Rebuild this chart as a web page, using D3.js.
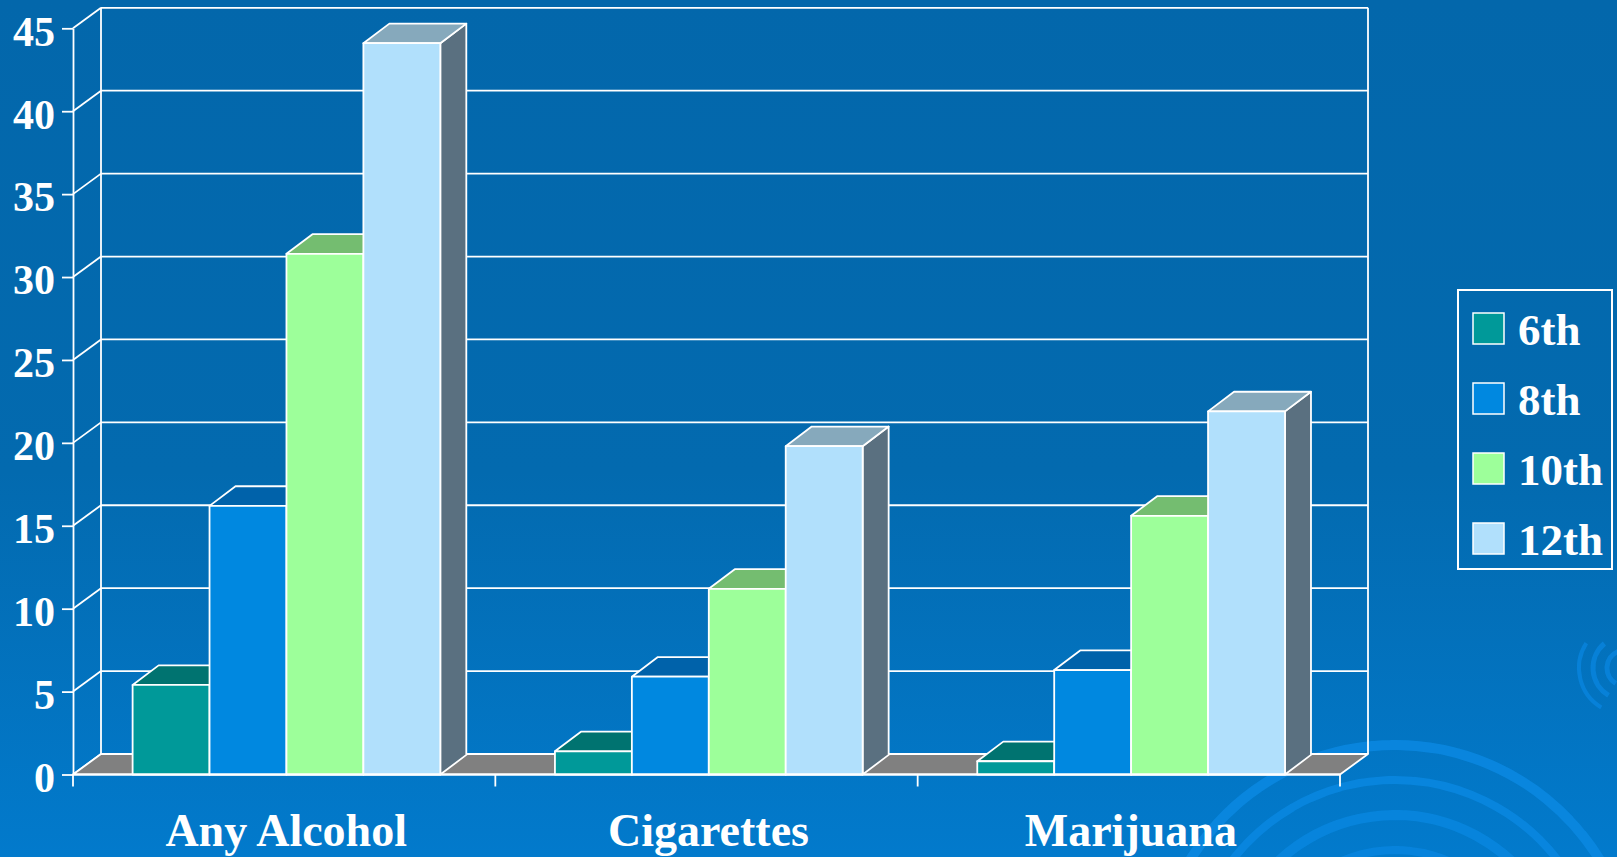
<!DOCTYPE html>
<html>
<head>
<meta charset="utf-8">
<script src="https://cdn.jsdelivr.net/npm/d3@7"></script>
<style>
  html, body { margin: 0; padding: 0; overflow: hidden; background: #0368ad; }
  svg { display: block; }
  text { font-family: "Liberation Serif", "Times New Roman", serif; font-weight: bold; fill: #fff; }
</style>
</head>
<body>
<svg id="chart" width="1617" height="857"></svg>
<script>
// chart data
const categories = ['Any Alcohol', 'Cigarettes', 'Marijuana'];
const grades = ['6th', '8th', '10th', '12th'];
const values6th = [5.4, 1.4, 0.8];
const values8th = [16.2, 5.9, 6.3];
const values10th = [31.4, 11.2, 15.6];
const values12th = [44.1, 19.8, 21.9];
const yTicks = [0, 5, 10, 15, 20, 25, 30, 35, 40, 45];

const series = [values6th, values8th, values10th, values12th];
const frontColors = ['#009999', '#0088e0', '#9dff9a', '#b1e0fc'];
const topColors = ['#007370', '#0062aa', '#74bd70', '#86a9bc'];
const sideColors = ['#005f5c', '#005a99', '#5f9a5c', '#5a7080'];

const svg = d3.select('#chart');
const W = 1617, H = 857;

// background
const defs = svg.append('defs');
const grad = defs.append('linearGradient').attr('id', 'bg').attr('x1', 0).attr('y1', 0).attr('x2', 0).attr('y2', 1);
grad.append('stop').attr('offset', 0).attr('stop-color', '#0367ab');
grad.append('stop').attr('offset', 0.55).attr('stop-color', '#036aaf');
grad.append('stop').attr('offset', 1).attr('stop-color', '#027acc');
svg.append('rect').attr('width', W).attr('height', H).attr('fill', 'url(#bg)');

// ripples in the corner
const ripples = svg.append('g').attr('fill', 'none').attr('stroke', '#0a88e2').attr('stroke-linecap', 'butt');
[[1395, 985, 240, 10, 0.85], [1395, 985, 205, 8, 0.8], [1395, 985, 170, 10, 0.75], [1395, 985, 135, 8, 0.7]].forEach(([cx, cy, r, w, op], i) => {
  ripples.append('path')
    .attr('transform', `translate(${cx},${cy})`)
    .attr('d', d3.arc()({ innerRadius: r, outerRadius: r, startAngle: -1.55 + i * 0.08, endAngle: 1.45 - i * 0.1 }))
    .attr('stroke-width', w).attr('opacity', op)
    .attr('stroke-dasharray', i % 2 ? '120 14 60 20' : '200 18');
});
[[1625, 668, 18, 5], [1625, 668, 32, 5], [1625, 668, 46, 4]].forEach(([cx, cy, r, w], i) => {
  ripples.append('path')
    .attr('transform', `translate(${cx},${cy})`)
    .attr('d', d3.arc()({ innerRadius: r, outerRadius: r, startAngle: -2.6, endAngle: -0.4 - i * 0.3 }))
    .attr('stroke-width', w).attr('opacity', 0.7);
});

// scales
const x0 = d3.scaleBand().domain(categories).range([73, 1340]);
const x1 = d3.scaleBand().domain(grades).range([0, x0.bandwidth()]).paddingOuter(0.745).align(0.52);
const y = d3.scaleLinear().domain([0, 45]).range([774.5, 28.3]);

const depth = { dx: 28, dy: 20.5 };
const barDepth = { dx: 26, dy: 19.6 };
const backX0 = x0.range()[0] + depth.dx;
const backX1 = x0.range()[1] + depth.dx;

const frame = svg.append('g').attr('stroke', '#fff').attr('stroke-width', 1.8).attr('fill', 'none');

// back wall gridlines
frame.selectAll('.grid').data(yTicks).join('line').attr('class', 'grid')
  .attr('x1', backX0).attr('x2', backX1)
  .attr('y1', d => y(d) - depth.dy).attr('y2', d => y(d) - depth.dy);
// left wall diagonals
frame.selectAll('.diag').data(yTicks).join('line').attr('class', 'diag')
  .attr('x1', x0.range()[0]).attr('x2', backX0)
  .attr('y1', d => y(d)).attr('y2', d => y(d) - depth.dy);
// wall edges
frame.selectAll('.edge').data([backX0, backX1]).join('line').attr('class', 'edge')
  .attr('x1', d => d).attr('x2', d => d)
  .attr('y1', y(0) - depth.dy).attr('y2', y(45) - depth.dy);

// floor
const fl = x0.range()[0], fr = x0.range()[1];
svg.append('polygon')
  .attr('points', [[fl, y(0)], [fr, y(0)], [fr + depth.dx, y(0) - depth.dy], [fl + depth.dx, y(0) - depth.dy]].map(p => p.join(',')).join(' '))
  .attr('fill', '#808080').attr('stroke', '#fff').attr('stroke-width', 1.8).attr('stroke-linejoin', 'round');

// bars
const bars = [];
categories.forEach((c, ci) => {
  grades.forEach((g, si) => {
    bars.push({ category: c, grade: g, si: si, value: series[si][ci] });
  });
});

const barG = svg.append('g').attr('stroke', '#fff').attr('stroke-width', 1.8).attr('stroke-linejoin', 'round');
const bar = barG.selectAll('.bar').data(bars).join('g').attr('class', 'bar');
const pts = arr => arr.map(p => p.join(',')).join(' ');
bar.append('polygon').attr('fill', d => sideColors[d.si]).attr('points', d => {
  const x = x0(d.category) + x1(d.grade) + x1.bandwidth(), t = y(d.value), b = y(0);
  return pts([[x, t], [x + barDepth.dx, t - barDepth.dy], [x + barDepth.dx, b - barDepth.dy], [x, b]]);
});
bar.append('polygon').attr('fill', d => topColors[d.si]).attr('points', d => {
  const x = x0(d.category) + x1(d.grade), w = x1.bandwidth(), t = y(d.value);
  return pts([[x, t], [x + barDepth.dx, t - barDepth.dy], [x + w + barDepth.dx, t - barDepth.dy], [x + w, t]]);
});
bar.append('rect').attr('fill', d => frontColors[d.si])
  .attr('x', d => x0(d.category) + x1(d.grade))
  .attr('y', d => y(d.value))
  .attr('width', x1.bandwidth())
  .attr('height', d => y(0) - y(d.value));

// y axis
const yAxis = svg.append('g').attr('transform', `translate(${fl},0)`)
  .call(d3.axisLeft(y).tickValues(yTicks).tickSize(11).tickSizeOuter(0).tickPadding(7));
yAxis.selectAll('path, line').attr('stroke', '#fff').attr('stroke-width', 1.8);
yAxis.selectAll('text').attr('font-size', 42).attr('font-family', '"Liberation Serif", serif')
  .attr('font-weight', 'bold').attr('fill', '#fff').attr('dy', '0.4em');

// category axis
svg.append('line').attr('x1', fl).attr('x2', fr).attr('y1', y(0)).attr('y2', y(0))
  .attr('stroke', '#fff').attr('stroke-width', 1.8);
const bounds = categories.map(c => x0(c)).concat([fr]);
svg.selectAll('.ctick').data(bounds).join('line').attr('class', 'ctick')
  .attr('x1', d => d).attr('x2', d => d).attr('y1', y(0)).attr('y2', y(0) + 12)
  .attr('stroke', '#fff').attr('stroke-width', 1.8);
const xAxis = svg.append('g').attr('transform', `translate(2,${y(0)})`)
  .call(d3.axisBottom(x0).tickSize(0).tickPadding(0));
xAxis.select('.domain').remove();
xAxis.selectAll('text').attr('font-size', 46).attr('font-family', '"Liberation Serif", serif')
  .attr('font-weight', 'bold').attr('fill', '#fff').attr('dy', null).attr('y', 71);

// legend
const legend = svg.append('g').attr('transform', 'translate(1458,290)');
legend.append('rect').attr('width', 154).attr('height', 279).attr('fill', 'none')
  .attr('stroke', '#fff').attr('stroke-width', 2);
const item = legend.selectAll('.item').data(grades).join('g').attr('class', 'item')
  .attr('transform', (d, i) => `translate(15,${23 + i * 70})`);
item.append('rect').attr('width', 31).attr('height', 31)
  .attr('fill', (d, i) => frontColors[i]).attr('stroke', '#fff').attr('stroke-width', 1.5);
item.append('text').attr('x', 45).attr('y', 32).attr('font-size', 45).text(d => d);
</script>
</body>
</html>
